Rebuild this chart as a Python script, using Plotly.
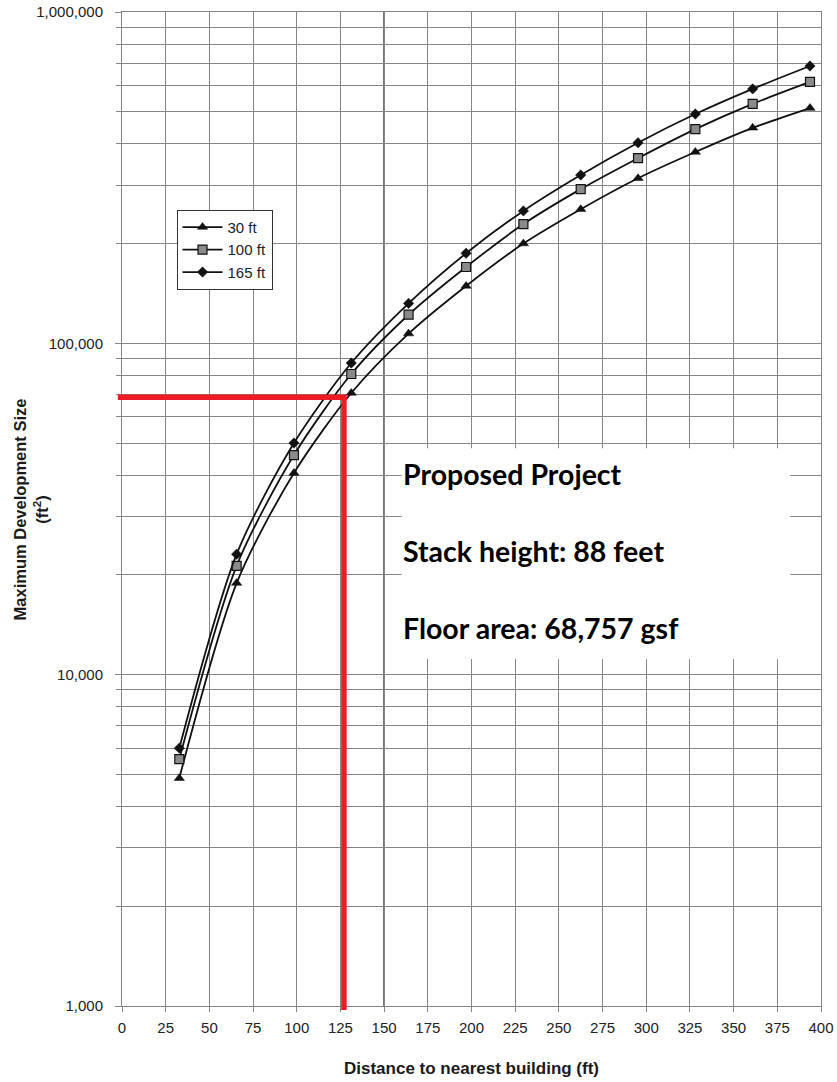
import math
import plotly.graph_objects as go

# Distance to nearest building (ft) at which each curve is evaluated
distance_ft = [32.8, 65.6, 98.4, 131.2, 164.0, 196.9, 229.7, 262.5, 295.3, 328.1, 360.9, 393.7]

# Maximum development size (ft²) for each stack height
size_30ft = [4870, 18900, 40600, 70800, 107000, 149000, 200000, 254000, 315000, 378000, 447000, 513000]
size_100ft = [5560, 21300, 46000, 80800, 122000, 170000, 229000, 292000, 362000, 443000, 528000, 615000]
size_165ft = [6000, 23100, 50000, 87200, 132000, 187000, 251000, 322000, 403000, 492000, 586000, 687000]

series_names = ["30 ft", "100 ft", "165 ft"]

# Axis ticks
x_ticks = list(range(0, 401, 25))
y_major = [1000, 10000, 100000, 1000000]
y_major_text = ["1,000", "10,000", "100,000", "1,000,000"]
y_minor = [m * 10 ** e for e in (3, 4, 5) for m in range(2, 10)]

# Proposed project
project_distance_ft = 127
project_area_gsf = 68757
project_lines = ["Proposed Project", "Stack height: 88 feet", "Floor area: 68,757 gsf"]

X_RANGE = [0, 400]
Y_LOG_RANGE = [3, 6]

GRID = "#858585"
INK = "#111111"
RED = "#ED1C24"

fig = go.Figure()

styles = [
    dict(symbol="triangle-up", size=9, color=INK, line=dict(width=0.5, color=INK)),
    dict(symbol="square", size=9, color="#8a8a8a", line=dict(width=1.2, color=INK)),
    dict(symbol="diamond", size=8, color=INK, line=dict(width=0.5, color=INK)),
]
for name, ys, mk in zip(series_names, [size_30ft, size_100ft, size_165ft], styles):
    fig.add_trace(go.Scatter(
        x=distance_ft, y=ys, name=name, mode="lines+markers",
        line=dict(color=INK, width=1.8, shape="spline", smoothing=0.8),
        marker=mk,
    ))

shapes = []
# darker reference line at 150 ft
shapes.append(dict(type="line", xref="x", yref="paper", x0=150, x1=150, y0=0, y1=1,
                   line=dict(color="#333333", width=1.6), layer="below"))

# project marker lines
area_paper = (math.log10(project_area_gsf) - Y_LOG_RANGE[0]) / (Y_LOG_RANGE[1] - Y_LOG_RANGE[0])
dist_paper = (project_distance_ft - X_RANGE[0]) / (X_RANGE[1] - X_RANGE[0])
shapes.append(dict(type="line", xref="paper", yref="y", x0=-0.006, x1=dist_paper + 0.004,
                   y0=project_area_gsf, y1=project_area_gsf,
                   line=dict(color=RED, width=5.5), layer="above"))
shapes.append(dict(type="line", xref="x", yref="paper", x0=project_distance_ft, x1=project_distance_ft,
                   y0=-0.004, y1=area_paper, line=dict(color=RED, width=5.5), layer="above"))

# white panel behind the project notes
shapes.append(dict(type="rect", xref="paper", yref="paper", x0=0.40, x1=0.956, y0=0.349, y1=0.561,
                   fillcolor="white", line=dict(width=0), layer="above"))

annotations = []
for i, txt in enumerate(project_lines):
    annotations.append(dict(
        text=txt, xref="paper", yref="paper", x=0.399, y=0.535 - i * 0.0775,
        xanchor="left", yanchor="middle", showarrow=False,
        font=dict(family="Lato", size=28.5, color="#000000", weight="bold"),
    ))

# axis titles
annotations.append(dict(
    text="Maximum Development Size<br>(ft<sup>2</sup>)", xref="paper", yref="paper",
    x=-0.131, y=0.5, xanchor="center", yanchor="middle", textangle=-90, showarrow=False,
    font=dict(size=16.5, color="#1a1a1a", weight="bold"),
))
annotations.append(dict(
    text="Distance to nearest building (ft)", xref="paper", yref="paper",
    x=0.5, y=-0.0625, xanchor="center", yanchor="middle", showarrow=False,
    font=dict(size=17, color="#1a1a1a", weight="bold"),
))

fig.update_layout(
    width=837, height=1082, autosize=False,
    margin=dict(l=122, r=16, t=12, b=76),
    paper_bgcolor="white", plot_bgcolor="white",
    font=dict(family="Liberation Sans, Arial", color="#222222"),
    shapes=shapes, annotations=annotations,
    legend=dict(
        x=0.078, y=0.801, xanchor="left", yanchor="top",
        bgcolor="white", bordercolor="#333333", borderwidth=1,
        font=dict(size=15, color="#222222"), itemwidth=40, tracegroupgap=0,
    ),
    showlegend=True,
)

fig.update_xaxes(
    automargin=False,
    range=X_RANGE, tickvals=x_ticks, ticktext=[str(v) for v in x_ticks],
    showgrid=True, gridcolor=GRID, gridwidth=1,
    ticks="outside", ticklen=5, tickcolor=GRID, ticklabelstandoff=3,
    showline=True, linecolor=GRID, mirror=True, zeroline=False,
    tickfont=dict(size=15, color="#222222"),
)
fig.update_yaxes(
    automargin=False,
    type="log", range=Y_LOG_RANGE, tickvals=y_major, ticktext=y_major_text,
    showgrid=True, gridcolor=GRID, gridwidth=1,
    ticks="outside", ticklen=6, tickcolor=GRID, ticklabelstandoff=9,
    showline=True, linecolor=GRID, mirror=True, zeroline=False,
    tickfont=dict(size=15, color="#222222"),
    minor=dict(tickvals=y_minor, showgrid=True, gridcolor=GRID, gridwidth=1,
               ticks="outside", ticklen=5, tickcolor=GRID),
)

fig.write_html("out.html")
